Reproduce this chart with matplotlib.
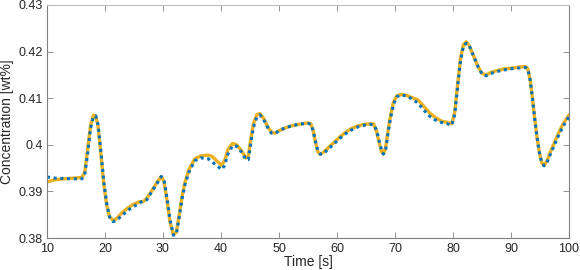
import numpy as np
import matplotlib
matplotlib.use('Agg')
import matplotlib.pyplot as plt

# time points [s]
time = [10, 11, 12, 13, 14, 15, 16, 16.5, 17, 17.5, 18, 18.4, 18.8, 19.3, 19.8,
        20.3, 20.8, 21.4, 22, 23, 24, 25, 26, 26.6, 27.2, 28, 29, 29.7, 30.2,
        30.7, 31.2, 31.8, 32.3, 32.8, 33.3, 33.8, 34.5, 35.5, 36.5, 37.8, 38.5,
        39.3, 40.1, 40.6, 41.2, 42.0, 42.7, 43.5, 44.3, 44.7, 45.1, 45.6, 46.2,
        46.7, 47.3, 48.0, 48.7, 49.3, 50, 51, 52, 53, 54, 55, 55.5, 55.9, 56.3,
        56.7, 57.1, 57.6, 58.5, 59.5, 60.5, 61.5, 62.5, 63.7, 64.7, 65.7, 66.3,
        66.8, 67.3, 67.7, 68.0, 68.4, 68.8, 69.2, 69.7, 70.3, 71.0, 72.0, 73.0,
        74.0, 75.0, 76.0, 77.0, 78.0, 79.0, 79.8, 80.3, 80.8, 81.3, 81.8, 82.3,
        82.8, 83.5, 84.3, 85.0, 85.7, 86.5, 87.5, 88.5, 89.5, 90.5, 91.5, 92.5,
        92.9, 93.3, 93.7, 94.1, 94.5, 94.9, 95.3, 95.7, 96.2, 96.8, 97.5, 98.2,
        99.0, 100]

# orange solid series
conc_a = [0.3920, 0.3924, 0.3926, 0.3927, 0.3928, 0.3929, 0.3930, 0.3940, 0.3990,
          0.4040, 0.4063, 0.4062, 0.4040, 0.3980, 0.3915, 0.3870, 0.3845, 0.3838,
          0.3842, 0.3855, 0.3865, 0.3873, 0.3878, 0.3878, 0.3885, 0.3900, 0.3920,
          0.3932, 0.3920, 0.3880, 0.3835, 0.3807, 0.3812, 0.3850, 0.3890, 0.3920,
          0.3948, 0.3970, 0.3976, 0.3978, 0.3975, 0.3965, 0.3956, 0.3965, 0.3990,
          0.4003, 0.4000, 0.3988, 0.3972, 0.3975, 0.4010, 0.4045, 0.4065, 0.4067,
          0.4058, 0.4040, 0.4027, 0.4025, 0.4030, 0.4036, 0.4040, 0.4043, 0.4045,
          0.4047, 0.4045, 0.4030, 0.4005, 0.3985, 0.3980, 0.3983, 0.3994, 0.4005,
          0.4017, 0.4027, 0.4035, 0.4041, 0.4044, 0.4045, 0.4045, 0.4030, 0.4003,
          0.3985, 0.3980, 0.3995, 0.4030, 0.4060, 0.4090, 0.4105, 0.4108, 0.4106,
          0.4101, 0.4096, 0.4082, 0.4068, 0.4058, 0.4051, 0.4048, 0.4045, 0.4070,
          0.4130, 0.4185, 0.4215, 0.4221, 0.4213, 0.4192, 0.4168, 0.4153, 0.4150,
          0.4155, 0.4159, 0.4162, 0.4164, 0.4165, 0.4167, 0.4168, 0.4163, 0.4140,
          0.4100, 0.4055, 0.4015, 0.3983, 0.3962, 0.3956, 0.3965, 0.3985, 0.4005,
          0.4025, 0.4045, 0.4064]

# blue dotted series
conc_b = [0.3931, 0.3929, 0.3928, 0.3928, 0.3927, 0.3927, 0.3927, 0.3935, 0.3980,
          0.4035, 0.4060, 0.4062, 0.4043, 0.3985, 0.3920, 0.3873, 0.3845, 0.3835,
          0.3838, 0.3849, 0.3860, 0.3868, 0.3875, 0.3881, 0.3882, 0.3898, 0.3918,
          0.3932, 0.3922, 0.3885, 0.3840, 0.3806, 0.3808, 0.3845, 0.3885, 0.3915,
          0.3942, 0.3966, 0.3972, 0.3970, 0.3963, 0.3955, 0.3947, 0.3955, 0.3980,
          0.3998, 0.3997, 0.3985, 0.3968, 0.3968, 0.4000, 0.4038, 0.4060, 0.4064,
          0.4056, 0.4038, 0.4025, 0.4024, 0.4030, 0.4036, 0.4040, 0.4043, 0.4045,
          0.4046, 0.4044, 0.4030, 0.4007, 0.3988, 0.3980, 0.3980, 0.3991, 0.4002,
          0.4014, 0.4024, 0.4032, 0.4039, 0.4042, 0.4044, 0.4043, 0.4032, 0.4007,
          0.3988, 0.3980, 0.3990, 0.4025, 0.4055, 0.4085, 0.4103, 0.4107, 0.4105,
          0.4098, 0.4089, 0.4074, 0.4061, 0.4053, 0.4048, 0.4045, 0.4042, 0.4065,
          0.4125, 0.4180, 0.4212, 0.4218, 0.4213, 0.4192, 0.4168, 0.4152, 0.4148,
          0.4153, 0.4157, 0.4160, 0.4162, 0.4164, 0.4165, 0.4166, 0.4162, 0.4140,
          0.4100, 0.4055, 0.4015, 0.3983, 0.3962, 0.3955, 0.3962, 0.3980, 0.4000,
          0.4020, 0.4040, 0.4060]

xticks = [10, 20, 30, 40, 50, 60, 70, 80, 90, 100]
yticks = [0.38, 0.39, 0.40, 0.41, 0.42, 0.43]
ytick_labels = ['0.38', '0.39', '0.4', '0.41', '0.42', '0.43']

plt.rcParams['font.family'] = ['Liberation Sans', 'DejaVu Sans']

fig = plt.figure(figsize=(5.8, 2.7), dpi=100)
ax = fig.add_axes([0.081, 0.1185, 0.9, 0.863])

ax.plot(time, conc_a, color='#EDB120', linewidth=2.4, solid_capstyle='round')
ax.plot(time, conc_b, color='#0072BD', linewidth=2.2, linestyle=(0, (1, 1.2)))

ax.set_xlim(10, 100)
ax.set_ylim(0.38, 0.43)
ax.set_xticks(xticks)
ax.set_yticks(yticks)
ax.set_yticklabels(ytick_labels)

for side in ['left', 'bottom', 'right', 'top']:
    ax.spines[side].set_color('#808080')
    ax.spines[side].set_linewidth(0.8)
ax.spines['top'].set_color('#bdbdbd')

ax.tick_params(direction='in', length=4, width=0.6, colors='#808080',
               labelcolor='#262626', labelsize=9, top=True, right=True)
ax.tick_params(axis='y', pad=3)
ax.tick_params(axis='x', pad=3.5)

ax.set_xlabel('Time [s]', fontsize=10, color='#262626', labelpad=0)
ax.set_ylabel('Concentration [wt%]', fontsize=10, color='#262626', labelpad=3)

fig.savefig('out.png', dpi=100)
